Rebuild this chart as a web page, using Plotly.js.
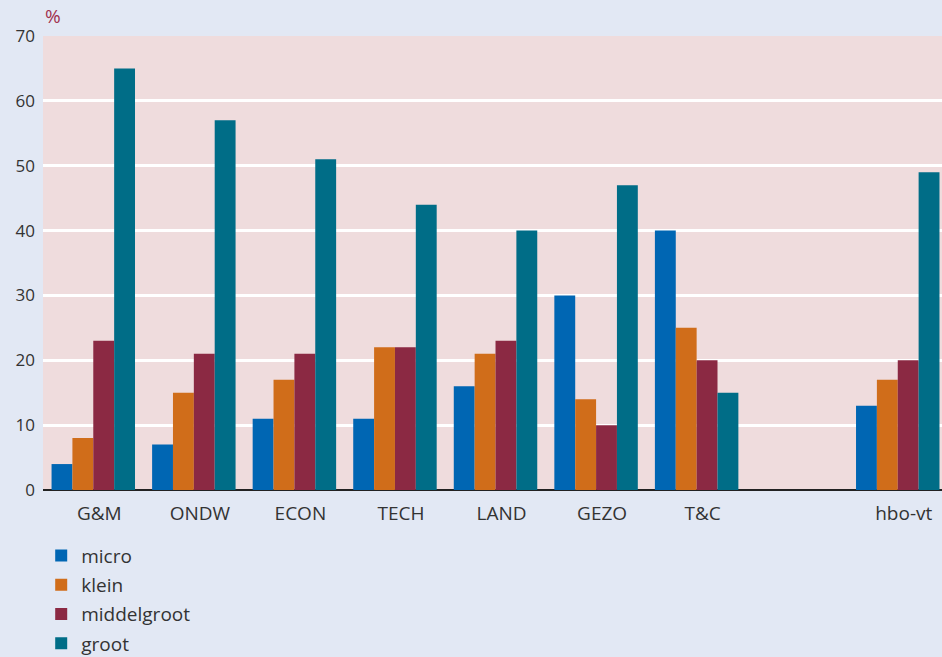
<!DOCTYPE html>
<html><head><meta charset="utf-8">
<script src="https://cdn.plot.ly/plotly-3.0.1.min.js"></script>
<style>html,body{margin:0;padding:0;background:#e2e8f4;overflow:hidden}</style>
</head><body><div id="chart" style="width:942px;height:657px"></div>
<script>
const categories = ['G&M','ONDW','ECON','TECH','LAND','GEZO','T&C',' ','hbo-vt'];
const micro = [4, 7, 11, 11, 16, 30, 40, null, 13];
const klein = [8, 15, 17, 22, 21, 14, 25, null, 17];
const middelgroot = [23, 21, 21, 22, 23, 10, 20, null, 20];
const groot = [65, 57, 51, 44, 40, 47, 15, null, 49];
const seriesNames = ['micro','klein','middelgroot','groot'];
const colors = ['#0066b3','#d06d1a','#8b2943','#006d87'];
const series = [micro, klein, middelgroot, groot];
const yTicks = [0,10,20,30,40,50,60,70];

const traces = series.map((v,i)=>({
  type:'bar', x:categories, y:v, name:seriesNames[i], legendgroup:seriesNames[i],
  marker:{color:colors[i], line:{width:0}}, hoverinfo:'none'
}));
const layout = {
  width:942, height:657,
  paper_bgcolor:'#e2e8f4', plot_bgcolor:'#efdcdd',
  margin:{l:43, r:0, t:36, b:167, pad:0},
  barmode:'group', bargap:0.17, bargroupgap:0,
  font:{family:'Open Sans, sans-serif', color:'#333', size:17},
  xaxis:{type:'category', categoryorder:'array', categoryarray:categories, automargin:false,
    range:[-0.5, 8.44], showgrid:false, zeroline:false, showline:false,
    ticks:'', tickfont:{size:19, color:'#333'}, ticklabelstandoff:10, ticklabelshift:6, fixedrange:true},
  yaxis:{range:[0,70], tickvals:yTicks, showgrid:true, gridcolor:'#ffffff', gridwidth:3, automargin:false,
    zeroline:true, zerolinecolor:'#222', zerolinewidth:2, showline:false,
    ticks:'', tickfont:{size:17, color:'#333'}, ticklabelstandoff:7, fixedrange:true},
  showlegend:true,
  legend:{xref:'paper', yref:'container', x:-0.002, y:0.183, xanchor:'left', yanchor:'top', orientation:'v',
    bgcolor:'rgba(0,0,0,0)', font:{size:19, color:'#333'}, tracegroupgap:1.5, itemwidth:30},
  annotations:[{text:'%', xref:'paper', yref:'paper', x:0.0, y:1.045, xanchor:'left', yanchor:'middle',
    showarrow:false, font:{size:19, color:'#a0304f'}}]
};
Plotly.newPlot('chart', traces, layout, {displayModeBar:false, staticPlot:true});
</script></body></html>
